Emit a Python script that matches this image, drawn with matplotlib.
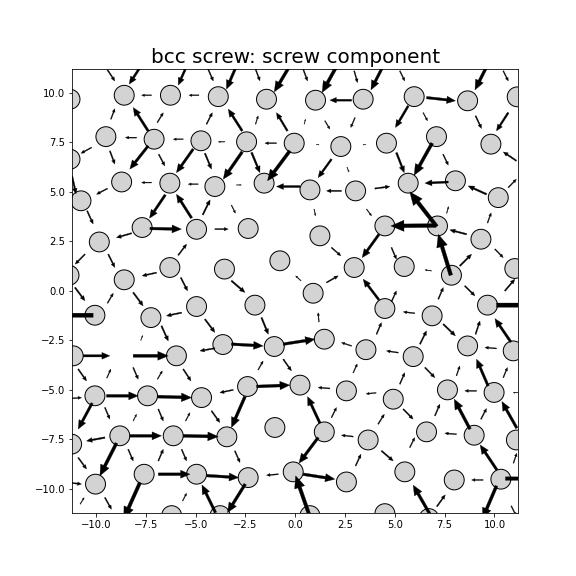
import matplotlib
matplotlib.use("Agg")
import matplotlib.pyplot as plt
from matplotlib.patches import Circle

TITLE = "bcc screw: screw component"
XLIM = (-11.2, 11.2)
YLIM = (-11.2, 11.2)
ATOM_RADIUS = 0.5

# atom column positions (projected)
ATOM_X = [
    -11.3, -8.58, -6.26, -3.86, -1.44, 1.02, 3.41, 5.97, 8.65, 11.14,
    -11.3, -9.5, -7.08, -4.73, -2.44, -0.05, 2.29, 4.58, 7.09, 9.82,
    -10.75, -8.71, -6.29, -4.03, -1.56, 0.74, 3.03, 5.67, 8.04, 10.19,
    -9.83, -7.68, -4.95, -2.36, 1.24, 4.5, 7.14, 9.32,
    -11.35, -8.58, -6.29, -3.55, -0.77, 2.96, 5.47, 7.84, 11.02,
    -10.05, -7.24, -4.95, -2.02, 0.9, 4.5, 6.87, 9.65,
    -11.14, -5.96, -3.63, -1.05, 1.46, 3.55, 5.92, 8.65, 10.94,
    -10.05, -7.41, -4.7, -2.39, 0.24, 2.57, 4.92, 7.64, 9.98,
    -11.22, -8.8, -6.12, -3.43, -1.02, 1.46, 3.66, 6.59, 8.98, 11.1,
    -10.02, -7.58, -4.95, -2.36, -0.1, 2.57, 5.5, 7.98, 10.32,
    -6.2, -3.77, 0.74, 4.5, 6.71,
]
ATOM_Y = [
    9.68, 9.88, 9.88, 9.81, 9.68, 9.63, 9.68, 9.81, 9.6, 9.8,
    6.65, 7.79, 7.66, 7.58, 7.53, 7.46, 7.29, 7.46, 7.79, 7.41,
    4.55, 5.5, 5.44, 5.27, 5.44, 5.1, 5.05, 5.44, 5.56, 4.71,
    2.47, 3.2, 3.11, 3.15, 2.78, 3.28, 3.28, 2.61,
    0.79, 0.56, 1.18, 1.1, 1.52, 1.18, 1.23, 0.79, 1.13,
    -1.23, -1.35, -0.79, -0.72, -0.12, -0.89, -1.26, -0.72,
    -3.28, -3.28, -2.71, -2.81, -2.44, -2.97, -3.32, -2.78, -3.03,
    -5.3, -5.3, -5.39, -4.83, -4.76, -5.05, -5.47, -5.0, -5.13,
    -7.74, -7.32, -7.32, -7.37, -6.9, -7.12, -7.53, -7.12, -7.29, -7.53,
    -9.76, -9.26, -9.26, -9.43, -9.14, -9.65, -9.14, -9.55, -9.51,
    -11.35, -11.35, -11.35, -11.25, -11.5,
]

# differential displacement arrows: tail (x0, y0) -> tip (x1, y1)
ARROW_X0 = [
    -9.42, -7.63, -7.21, -5.37, -4.37, -4.83, -7.38, -9.25, -6.92, -4.45,
    -7.96, -5.62, -10.22, -9.3, -7.38, -6.85, -5.12, -4.53, -7.21, -4.87,
    -11.2, -9.42, -10.44, -5.2, -4.64, -3.2, -6.52,
    -2.86, -1.99, -0.15, 0.4, 2.26, 2.96, 2.83, -2.66, -1.99, -0.39,
    0.45, 1.49, 3.0, -3.53, -0.94, 1.05, 3.55, -2.66, -2.19, -0.27,
    1.82, 2.6, -2.95, 0.24, 2.32, 0.95, 3.58,
    4.52, 5.25, 6.59, 9.78, 10.44, 5.67, 6.42, 9.05, 10.69, 5.08,
    6.87, 7.42, 11.1, 7.68, 9.6, 10.69, 7.1, 7.6, 4.0, 9.65,
    -7.29, -8.21, -4.03, -10.55, -9.38, -6.96, -5.87, -11.05, -9.42, -8.13,
    -5.74, -5.7, -4.53, -4.03, -6.71, -7.75, -10.14, -10.64, -8.13,
    1.82, 4.2, 4.2, -3.2, 0.29, 1.57, -1.69, 1.19, -3.2, -0.6,
    2.83, -1.86, -0.6, 2.91,
    7.01, 7.81, 8.6, 10.02, 8.26, 4.83, 6.84, 8.51, 10.52, 7.18,
    10.1, 4.83, 6.0, 7.43, 9.05, 10.82, 4.08, 6.26, 10.1, 5.17,
    9.68, 6.51, 8.09,
    5.25, 4.06, 9.1, 11.2, 8.77, 9.32, 11.12, 5.42, 7.01, 8.09,
    4.16, 4.33, 5.75, 10.1, 10.55, 9.43, 6.76, 7.11, 10.84, 10.44,
    10.95, 10.12,
    -10.89, -9.45, -8.13, -6.91, -5.62, -11.3, -9.47, -6.91, -3.11, -10.19,
    -9.55, -8.13, -6.87, -5.5, -4.2, -9.55, -8.3, -5.62, -8.97, -10.89,
    -8.38, -6.87, -5.7, -11.4, -6.87, -4.43, -7.79, -10.79, -9.55, -5.65,
    -4.0,
    -1.94, 1.74, -2.52, 1.24, 1.82, 2.91, -3.03, 1.15, 3.03, -0.85,
    0.4, 0.7, -2.51,
]
ARROW_Y0 = [
    11.16, 11.53, 9.88, 11.53, 11.2, 9.88, 8.08, 8.67, 8.5, 8.42,
    7.74, 7.66, 7.24, 7.07, 7.32, 6.9, 7.16, 6.95, 5.47, 5.39,
    5.8, 5.17, 4.04, 3.68, 3.84, 4.33, 4.85,
    11.57, 11.2, 11.57, 11.2, 11.67, 11.11, 9.63, 8.08, 8.42, 8.08,
    8.42, 8.59, 8.75, 7.53, 7.46, 7.38, 7.38, 7.02, 6.99, 7.07,
    6.65, 6.25, 5.35, 5.27, 5.05, 4.13, 4.13,
    11.57, 11.11, 9.76, 11.67, 11.11, 9.34, 9.0, 8.84, 9.0, 6.98,
    7.46, 6.9, 6.57, 5.5, 4.88, 5.22, 3.25, 3.92, 5.17, 3.43,
    3.15, 2.91, 3.12, 1.85, 1.85, 0.92, 1.8, 0.17, -0.62, -0.08,
    0.67, -1.1, -1.43, -2.9, -1.77, -2.5, -1.23, -3.28, -3.28,
    2.19, 2.85, -0.45, 0.51, 0.51, 0.42, -1.35, -1.57, -2.69, -2.69,
    -2.78, -3.99, -3.45, -4.14,
    3.3, 0.79, 2.86, 2.11, 1.26, 2.19, 1.01, 0.25, 0.0, -0.42,
    -0.72, -0.55, -1.13, -1.68, -2.19, -2.58, -2.19, -2.69, -2.91, -3.12,
    -4.8, -3.87, -4.29,
    -4.71, -5.15, -5.05, -5.14, -6.98, -6.48, -6.93, -5.97, -6.31, -7.24,
    -6.73, -8.08, -7.91, -9.85, -9.48, -9.55, -11.28, -10.89, -10.86, -4.38,
    -8.7, -9.04,
    -3.95, -4.4, -3.87, -4.46, -3.95, -5.44, -5.3, -5.34, -5.0, -5.67,
    -5.89, -6.57, -5.97, -6.57, -6.06, -7.41, -7.32, -7.32, -7.69, -8.42,
    -8.0, -8.59, -8.0, -9.68, -9.26, -9.33, -9.68, -10.77, -10.44, -10.61,
    -11.2,
    -4.83, -4.93, -5.34, -6.68, -6.4, -7.36, -8.08, -7.41, -8.84, -9.26,
    -9.26, -11.3, -9.76,
]
ARROW_X1 = [
    -9.05, -8.33, -7.71, -5.87, -4.11, -5.33, -8.13, -9.05, -6.62, -4.16,
    -8.52, -6.12, -10.75, -9.05, -8.3, -6.54, -5.96, -4.2, -7.71, -5.37,
    -11.0, -9.97, -10.14, -5.96, -4.27, -3.0, -7.31,
    -3.45, -1.77, -1.05, 0.62, 1.35, 3.13, 1.74, -3.36, -1.86, -0.94,
    0.52, 1.74, 2.79, -3.86, -1.52, 1.2, 3.4, -3.61, -1.77, -1.39,
    1.15, 2.7, -2.7, -0.94, 1.57, 1.02, 3.83,
    3.8, 5.5, 8.04, 9.02, 10.69, 5.03, 6.64, 9.35, 10.1, 5.47,
    5.97, 7.68, 10.44, 6.51, 8.68, 11.1, 5.75, 7.7, 4.75, 9.83,
    -5.71, -8.97, -3.36, -11.04, -9.05, -7.68, -5.45, -10.55, -9.13, -7.63,
    -5.4, -6.46, -4.03, -4.78, -6.37, -7.65, -12.6, -9.3, -6.37,
    2.29, 3.36, 3.41, -2.52, 0.02, 2.16, -1.35, 1.15, -1.61, 0.99,
    2.32, -1.61, -0.19, 3.11,
    4.8, 7.18, 7.76, 10.44, 8.85, 5.08, 6.51, 9.02, 11.02, 7.43,
    12.6, 5.08, 5.42, 8.04, 9.27, 10.02, 4.33, 6.59, 9.52, 4.58,
    9.1, 7.01, 8.26,
    5.5, 3.56, 8.51, 10.94, 7.98, 9.6, 10.37, 5.92, 7.26, 7.51,
    4.47, 4.92, 6.0, 9.4, 12.6, 8.85, 5.92, 7.53, 11.09, 10.65,
    11.12, 9.28,
    -10.47, -9.25, -7.88, -6.67, -5.23, -10.72, -7.88, -5.2, -3.78, -10.89,
    -9.3, -7.96, -6.62, -5.28, -3.78, -10.47, -6.71, -3.86, -9.8, -10.47,
    -8.13, -6.62, -5.45, -10.72, -5.28, -2.84, -8.6, -10.59, -9.22, -5.45,
    -4.68,
    -0.27, 1.15, -3.2, 0.62, 2.07, 2.32, -2.77, 0.19, 3.3, -1.44,
    1.99, 0.02, -3.4,
]
ARROW_Y1 = [
    10.6, 10.44, 9.88, 10.39, 10.6, 9.88, 9.26, 9.2, 9.0, 9.0,
    7.74, 7.66, 6.95, 6.4, 6.15, 6.31, 5.97, 6.15, 5.47, 5.39,
    4.9, 4.88, 3.38, 4.88, 4.6, 3.92, 3.67,
    10.19, 10.61, 10.05, 10.6, 10.02, 10.52, 9.63, 9.18, 8.84, 9.0,
    8.67, 8.17, 8.25, 7.53, 7.46, 7.38, 7.38, 5.64, 5.97, 5.56,
    5.72, 6.0, 5.35, 5.27, 5.05, 3.79, 3.79,
    10.15, 10.6, 9.6, 10.15, 10.6, 8.25, 8.59, 8.2, 8.08, 5.97,
    5.84, 6.35, 7.02, 5.44, 5.3, 5.64, 5.0, 4.26, 5.27, 3.94,
    3.12, 2.69, 3.12, 1.35, 1.18, 0.76, 2.36, -0.5, -0.12, -0.76,
    0.0, -1.26, -2.1, -3.03, -2.53, -2.25, -1.23, -3.28, -3.28,
    1.77, 1.68, 0.59, -0.08, 0.76, 0.76, -2.19, -1.1, -2.78, -2.44,
    -2.61, -3.54, -4.04, -3.69,
    3.28, 2.86, 3.08, 1.68, 1.85, 1.6, 1.06, -0.25, 0.59, 0.17,
    -0.72, 0.0, -1.06, -2.27, -1.52, -1.4, -1.6, -2.02, -2.86, -3.03,
    -3.45, -4.38, -3.79,
    -4.13, -5.2, -5.05, -5.14, -5.47, -5.94, -5.59, -6.48, -5.72, -7.19,
    -6.23, -8.59, -7.41, -11.5, -9.48, -9.55, -9.81, -10.3, -11.36, -3.87,
    -8.2, -7.78,
    -4.55, -3.95, -4.46, -4.04, -4.55, -5.39, -5.3, -5.39, -5.14, -6.98,
    -6.48, -6.23, -6.57, -6.15, -6.65, -7.58, -7.32, -7.36, -9.34, -9.0,
    -8.59, -8.0, -8.59, -9.76, -9.26, -9.43, -11.5, -10.44, -11.03, -10.22,
    -9.8,
    -4.76, -4.88, -6.9, -5.34, -5.89, -7.29, -8.67, -8.7, -8.25, -9.31,
    -9.51, -9.34, -11.2,
]

fig = plt.figure(figsize=(8, 8), dpi=72)
ax = fig.add_subplot(111)

for x, y in zip(ATOM_X, ATOM_Y):
    ax.add_patch(Circle((x, y), ATOM_RADIUS, facecolor="lightgray",
                        edgecolor="black", linewidth=1.0, zorder=2))

for x0, y0, x1, y1 in zip(ARROW_X0, ARROW_Y0, ARROW_X1, ARROW_Y1):
    dx, dy = x1 - x0, y1 - y0
    L = (dx * dx + dy * dy) ** 0.5
    w = 0.085 * L
    ax.arrow(x0, y0, dx, dy, width=w, head_width=3.0 * w,
             head_length=min(3.5 * w, 0.9 * L), length_includes_head=True,
             facecolor="black", edgecolor="black", linewidth=0.3, zorder=3)

ax.set_xlim(*XLIM)
ax.set_ylim(*YLIM)
ax.set_title(TITLE, fontsize=20)
fig.savefig("out.png", dpi=72)
